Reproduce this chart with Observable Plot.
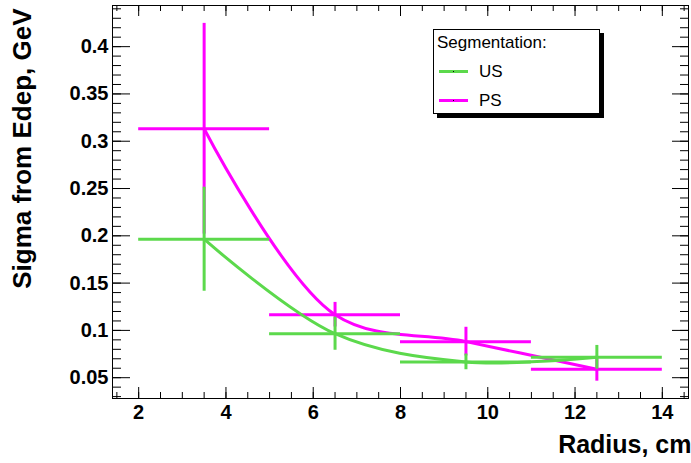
<!DOCTYPE html>
<html>
<head>
<meta charset="utf-8">
<script src="https://cdn.jsdelivr.net/npm/d3@7"></script>
<script src="https://cdn.jsdelivr.net/npm/@observablehq/plot@0.6"></script>
<style>
  html, body { margin: 0; padding: 0; background: #fff; }
  #wrap { position: relative; width: 691px; height: 463px; }
  #legend { position: absolute; left: 433px; top: 29px; width: 165px; height: 83px;
    border: 1px solid #000; background: #fff; box-shadow: 4px 4px 0 #000;
    font-family: "Liberation Sans", Arial, sans-serif; font-size: 17px; color: #000; }
  #legend .title { position: absolute; left: 3px; top: 3px; }
  #legend .row { position: absolute; left: 5px; height: 20px; }
  #legend .sw { position: absolute; left: 0; top: 8px; width: 29px; height: 3px; }
  #legend .sw i { position: absolute; left: 14px; top: 1px; width: 1px; height: 1px; background: #000; }
  #legend .lab { position: absolute; left: 40px; top: 0; }
</style>
</head>
<body>
<div id="wrap"></div>
<script>
// Data
const radius = [3.5, 6.5, 9.5, 12.5];
const radiusErr = [1.5, 1.5, 1.5, 1.5];
const usSigma = [0.1964, 0.0965, 0.0667, 0.0716];
const usErr = [0.055, 0.0175, 0.0083, 0.0125];
const psSigma = [0.3132, 0.1166, 0.0881, 0.0590];
const psErr = [0.1114, 0.013, 0.0152, 0.0127];
const seriesNames = ["US", "PS"];
const seriesColors = ["#5cd94c", "#ff00ff"];

const xTicks = [2, 4, 6, 8, 10, 12, 14];
const yTicks = [0.05, 0.1, 0.15, 0.2, 0.25, 0.3, 0.35, 0.4];
const xMinor = d3.range(1.5, 14.51, 0.5);
const yMinor = d3.range(0.03, 0.4431, 0.01);

const W = 691, H = 463, mL = 112, mR = 3, mT = 5, mB = 65;
const pw = W - mL - mR, ph = H - mT - mB;

function rows(ys, errs, name) {
  return radius.map((x, i) => ({x, xe: radiusErr[i], y: ys[i], ye: errs[i], s: name}));
}
const us = rows(usSigma, usErr, "US");
const ps = rows(psSigma, psErr, "PS");

function seriesMarks(data, color) {
  return [
    Plot.line(data, {x: "x", y: "y", stroke: color, strokeWidth: 3, curve: "catmull-rom"}),
    Plot.ruleY(data, {y: "y", x1: d => d.x - d.xe, x2: d => d.x + d.xe, stroke: color, strokeWidth: 3}),
    Plot.ruleX(data, {x: "x", y1: d => d.y - d.ye, y2: d => d.y + d.ye, stroke: color, strokeWidth: 3})
  ];
}

const chart = Plot.plot({
  width: W, height: H,
  marginLeft: mL, marginRight: mR, marginTop: mT, marginBottom: mB,
  style: {fontFamily: "'Liberation Sans', Arial, sans-serif", fontSize: "20px", fontWeight: "bold", color: "#000", background: "#fff"},
  x: {domain: [1.4, 14.6]},
  y: {domain: [0.028, 0.4435]},
  marks: [
    ...seriesMarks(ps, seriesColors[1]),
    ...seriesMarks(us, seriesColors[0]),
    Plot.frame({stroke: "#000", strokeWidth: 1}),
    // inward ticks, bottom and top
    Plot.tickX(xTicks, {x: d => d, insetTop: ph - 11, stroke: "#000"}),
    Plot.tickX(xMinor, {x: d => d, insetTop: ph - 6, stroke: "#000"}),
    Plot.tickX(xTicks, {x: d => d, insetBottom: ph - 11, stroke: "#000"}),
    Plot.tickX(xMinor, {x: d => d, insetBottom: ph - 6, stroke: "#000"}),
    // inward ticks, left and right
    Plot.tickY(yTicks, {y: d => d, insetRight: pw - 18, stroke: "#000"}),
    Plot.tickY(yMinor, {y: d => d, insetRight: pw - 9, stroke: "#000"}),
    Plot.tickY(yTicks, {y: d => d, insetLeft: pw - 16, stroke: "#000"}),
    Plot.tickY(yMinor, {y: d => d, insetLeft: pw - 8, stroke: "#000"}),
    Plot.axisX({ticks: xTicks, tickSize: 0, tickPadding: 6, label: null, tickFormat: d => `${d}`}),
    Plot.axisY({ticks: yTicks, tickSize: 0, tickPadding: 4, label: null, tickFormat: d => `${d}`}),
    Plot.text(["Radius, cm"], {frameAnchor: "bottom-right", textAnchor: "end", dx: 3, dy: 54, fontSize: 25, fontWeight: "bold"}),
    Plot.text(["Sigma from Edep, GeV"], {frameAnchor: "top-left", textAnchor: "end", rotate: -90, dx: 12 - mL, dy: 3, fontSize: 26, fontWeight: "bold"})
  ]
});

const wrap = document.getElementById("wrap");
wrap.appendChild(chart);

const legend = document.createElement("div");
legend.id = "legend";
let html = '<div class="title">Segmentation:</div>';
seriesNames.forEach((n, i) => {
  html += `<div class="row" style="top:${32 + i * 29}px"><div class="sw" style="background:${seriesColors[i]}"><i></i></div><div class="lab">${n}</div></div>`;
});
legend.innerHTML = html;
wrap.appendChild(legend);
</script>
</body>
</html>
